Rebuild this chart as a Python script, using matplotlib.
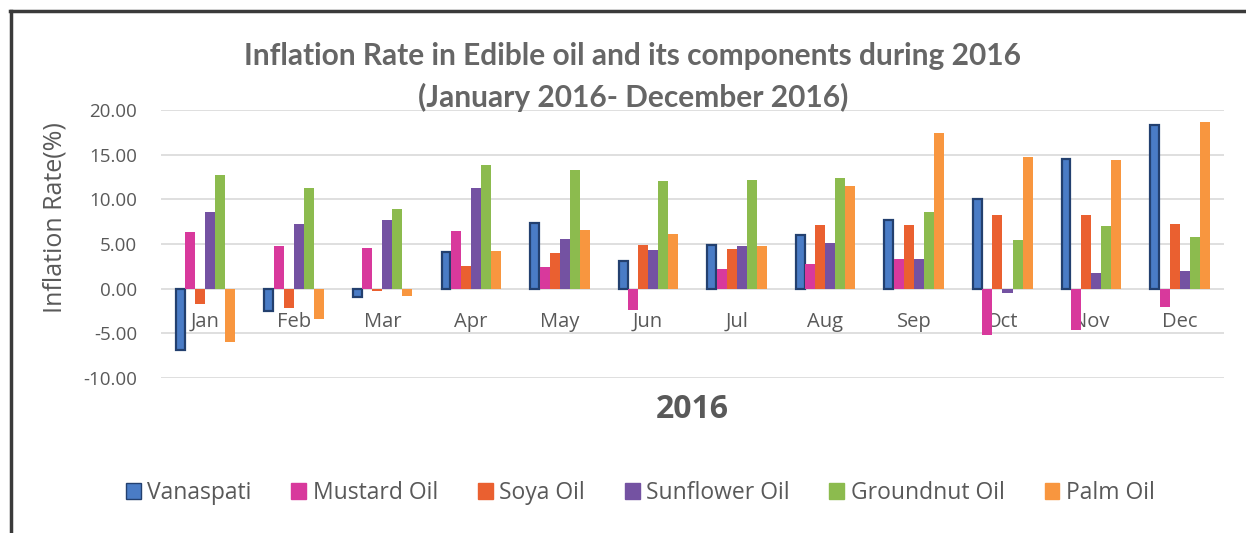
import matplotlib
matplotlib.use("Agg")
import matplotlib.pyplot as plt
import numpy as np
from matplotlib.lines import Line2D
from matplotlib.patches import Patch

months = ["Jan", "Feb", "Mar", "Apr", "May", "Jun", "Jul", "Aug", "Sep", "Oct", "Nov", "Dec"]
series_names = ["Vanaspati", "Mustard Oil", "Soya Oil", "Sunflower Oil", "Groundnut Oil", "Palm Oil"]

vanaspati = [-6.83, -2.50, -0.93, 4.10, 7.35, 3.10, 4.92, 5.97, 7.65, 10.00, 14.56, 18.29]
mustard_oil = [6.34, 4.74, 4.55, 6.42, 2.40, -2.43, 2.24, 2.80, 3.36, -5.23, -4.67, -2.06]
soya_oil = [-1.68, -2.13, -0.25, 2.50, 3.99, 4.92, 4.48, 7.09, 7.09, 8.28, 8.21, 7.28]
sunflower_oil = [8.58, 7.28, 7.65, 11.31, 5.60, 4.36, 4.74, 5.10, 3.36, -0.49, 1.75, 1.97]
groundnut_oil = [12.69, 11.31, 8.96, 13.80, 13.32, 12.00, 12.12, 12.43, 8.58, 5.41, 6.98, 5.78]
palm_oil = [-5.98, -3.36, -0.86, 4.21, 6.53, 6.15, 4.74, 11.46, 17.47, 14.74, 14.37, 18.66]

y_ticks = [-10, -5, 0, 5, 10, 15, 20]

series = [vanaspati, mustard_oil, soya_oil, sunflower_oil, groundnut_oil, palm_oil]
colors = ["#4A7CC6", "#D8399C", "#EA6030", "#7452A2", "#8CBB4E", "#F8963F"]
edges = ["#23406F", None, None, None, None, None]

text_grey = "#595959"
fig = plt.figure(figsize=(12.46, 5.33), dpi=100)
ax = fig.add_axes([0.1292, 0.2908, 0.8531, 0.5028])

x = np.arange(len(months))
w = 0.113
for k, (vals, c, ec) in enumerate(zip(series, colors, edges)):
    off = (k - 2.5) * w
    if ec is not None:
        ax.bar(x + off, vals, width=w * 0.88, color=c, edgecolor=ec, linewidth=1.6, zorder=3)
    else:
        ax.bar(x + off, vals, width=w, color=c, linewidth=0, zorder=3)

ax.set_xlim(-0.5, len(months) - 0.5)
ax.set_ylim(-10, 20)
ax.set_yticks(y_ticks)
ax.set_yticklabels([f"{v:.2f}" for v in y_ticks], fontsize=13.5, color=text_grey,
                   family="Open Sans")
ax.tick_params(axis="y", length=0, pad=17)
ax.set_xticks([])
ax.grid(axis="y", color="#D9D9D9", linewidth=1.2, zorder=0)
for s in ax.spines.values():
    s.set_visible(False)

for i, m in enumerate(months):
    ax.text(i, -3.7, m, ha="center", va="center", fontsize=14.5, color=text_grey,
            family="Open Sans", zorder=2)

ax.set_ylabel("Inflation Rate(%)", fontsize=18, color=text_grey, family="Open Sans")
ax.yaxis.set_label_coords(-0.088, 0.60)

fig.text(0.556, 0.232, "2016", ha="center", va="center", fontsize=23, fontweight="bold",
         color=text_grey, family="Open Sans")

fig.text(0.508, 0.895, "Inflation Rate in Edible oil and its components during 2016",
         ha="center", va="center", fontsize=21.5, fontweight="bold", color="#666666",
         family="Lato")
fig.text(0.508, 0.818, "(January 2016- December 2016)",
         ha="center", va="center", fontsize=21.5, fontweight="bold", color="#666666",
         family="Lato")

handles = [Patch(facecolor=c, edgecolor=(ec or c), linewidth=1.0) for c, ec in zip(colors, edges)]
fig.legend(handles, series_names, loc="center", bbox_to_anchor=(0.514, 0.075), ncol=6,
           frameon=False, handlelength=0.65, handleheight=0.75,
           handletextpad=0.3, columnspacing=1.72, labelcolor=text_grey,
           prop={"family": "Open Sans", "size": 16.5})

# dark frame on top and left
fig.add_artist(Line2D([0.008, 1.0], [0.979, 0.979], transform=fig.transFigure,
                      color="#3A3A3A", linewidth=2.5))
fig.add_artist(Line2D([0.009, 0.009], [0.0, 0.98], transform=fig.transFigure,
                      color="#3A3A3A", linewidth=2.5))

fig.savefig("out.png", dpi=100, facecolor="white")
